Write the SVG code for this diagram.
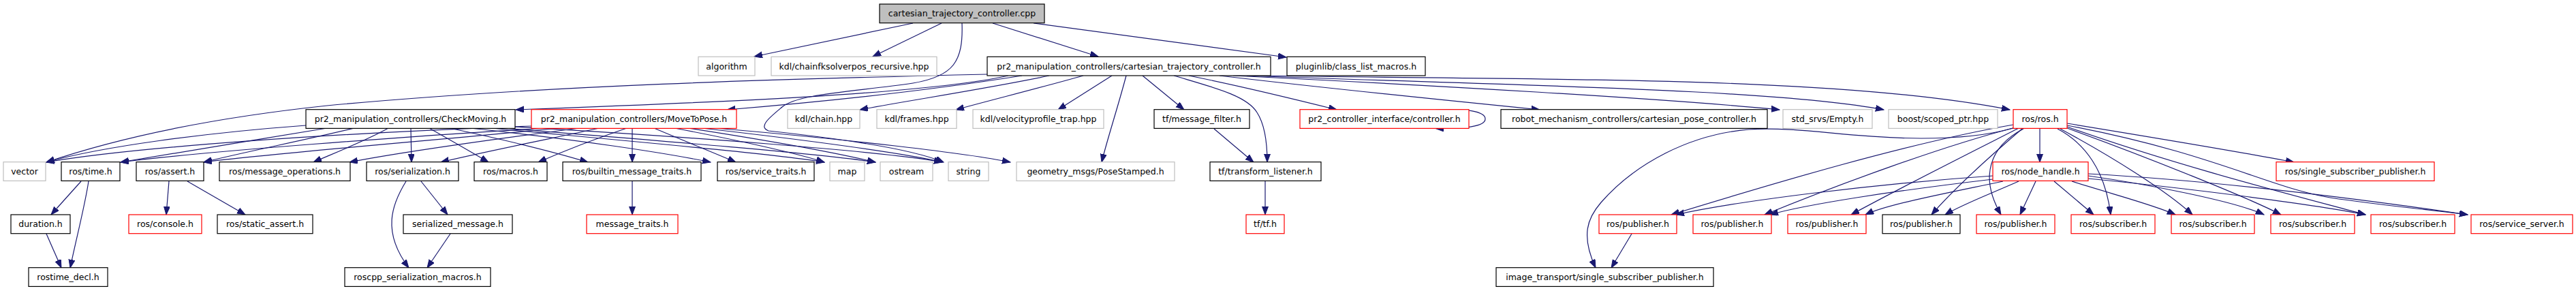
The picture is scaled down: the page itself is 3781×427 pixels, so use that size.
<svg xmlns="http://www.w3.org/2000/svg" width="3781" height="427" viewBox="0 0 3781 427">
<style>
rect{fill:#fff;stroke:#000;stroke-width:1.2}
.g rect{stroke:#bfbfbf}
.r rect{stroke:#ff0000}
.root rect{fill:#bfbfbf;stroke:#000}
text{font-family:"DejaVu Sans","Liberation Sans",sans-serif;font-size:12.5px;text-anchor:middle;fill:#000}
#edges path{fill:none;stroke:#191970;stroke-width:1.2;marker-end:url(#ah)}
</style>
<defs>
<marker id="ah" markerWidth="13" markerHeight="10" refX="12" refY="4.5" orient="auto" markerUnits="userSpaceOnUse"><path d="M0,0 L12,4.5 L0,9 z" fill="#191970" stroke="#191970" stroke-width="1"/></marker>
</defs>
<rect x="0" y="0" width="3781" height="427" style="fill:#fff;stroke:none"/>
<g id="edges">
<path d="M1340,34 L1107,83"/>
<path d="M1382,34 L1281,83"/>
<path d="M1457,34 L1612,83"/>
<path d="M1517,34 L1888,84"/>
<path d="M1412,34 C1414,90 1400,112 1340,122 C1250,135 1170,138 1148,157 C1130,172 1112,186 1128,192 C1200,200 1330,215 1385,238"/>
<path d="M1449,109 C1150,116 800,125 480,155 C320,172 180,200 68,238"/>
<path d="M1480,111 C1350,140 1000,152 757,161"/>
<path d="M1500,111 C1350,135 1200,150 1067,161"/>
<path d="M1540,111 C1450,130 1330,148 1262,161"/>
<path d="M1590,111 C1530,128 1450,148 1403,161"/>
<path d="M1632,111 L1553,161"/>
<path d="M1653,111 C1640,160 1625,205 1617,238"/>
<path d="M1677,111 L1738,161"/>
<path d="M1723,111 C1780,128 1830,140 1845,165 C1858,185 1860,215 1860,238"/>
<path d="M1745,111 C1830,128 1910,148 1962,161"/>
<path d="M1790,111 C1950,130 2150,150 2260,161"/>
<path d="M1810,111 C2100,125 2450,145 2612,161"/>
<path d="M1830,111 C2200,125 2600,130 2765,161"/>
<path d="M1850,111 C2300,118 2700,112 2950,161"/>
<path d="M449,184 C300,195 150,215 68,238"/>
<path d="M480,188 C380,205 250,225 177,238"/>
<path d="M520,188 C450,205 350,225 299,238"/>
<path d="M570,188 C540,205 490,225 460,238"/>
<path d="M603,188 L604,238"/>
<path d="M630,188 C660,205 695,225 717,238"/>
<path d="M660,188 C740,205 820,225 863,238"/>
<path d="M690,188 C850,205 980,225 1043,238"/>
<path d="M720,188 C900,205 1130,225 1210,238"/>
<path d="M740,188 C950,205 1200,225 1285,238"/>
<path d="M755,186 C1000,200 1300,222 1383,238"/>
<path d="M780,185 C500,195 200,215 68,238"/>
<path d="M800,188 C600,200 300,222 177,238"/>
<path d="M820,188 C650,205 400,225 299,238"/>
<path d="M850,188 C720,205 580,225 513,238"/>
<path d="M880,188 C800,205 700,225 647,238"/>
<path d="M920,188 C870,205 820,225 790,238"/>
<path d="M928,188 L928,238"/>
<path d="M960,188 C1000,205 1050,225 1080,238"/>
<path d="M990,188 C1080,205 1170,225 1210,238"/>
<path d="M1010,188 C1120,205 1230,225 1285,238"/>
<path d="M1030,188 C1180,205 1330,225 1383,238"/>
<path d="M1050,188 C1250,205 1420,225 1483,238"/>
<path d="M119,266 L75,315"/>
<path d="M130,266 C125,300 112,350 103,393"/>
<path d="M68,343 L90,393"/>
<path d="M248,266 L244,315"/>
<path d="M275,266 L360,315"/>
<path d="M618,266 L657,315"/>
<path d="M596,266 C575,300 560,340 600,393"/>
<path d="M661,343 L627,393"/>
<path d="M928,266 L928,315"/>
<path d="M1782,189 L1840,238"/>
<path d="M1857,266 L1857,315"/>
<path d="M2107,161 C2150,159 2180,163 2180,174.5 C2180,186 2150,188.5 2107,188.5"/>
<path d="M2955,188 C2920,198 2880,203 2820,203 C2720,203 2640,185 2567,190 C2480,197 2400,240 2350,297 C2330,320 2320,345 2342,393"/>
<path d="M2395,343 L2365,393"/>
<path d="M2994,189 L2994,238"/>
<path d="M3034,181 C3150,200 3300,225 3367,238"/>
<path d="M2955,183 C2800,210 2600,270 2453,315"/>
<path d="M2958,187 C2850,215 2700,270 2590,315"/>
<path d="M2963,188 C2900,220 2800,270 2717,315"/>
<path d="M2968,189 C2920,230 2870,275 2835,315"/>
<path d="M2970,189 C2920,215 2905,260 2937,315"/>
<path d="M3020,189 C3060,210 3090,250 3098,315"/>
<path d="M3024,189 C3100,230 3180,280 3218,315"/>
<path d="M3034,188 C3150,230 3300,290 3348,315"/>
<path d="M3034,186 C3200,245 3380,290 3472,315"/>
<path d="M3034,184 C3250,225 3330,275 3420,290 C3500,302 3570,308 3622,315"/>
<path d="M2925,258 C2750,270 2550,295 2460,315"/>
<path d="M2925,263 C2780,280 2650,300 2598,315"/>
<path d="M2940,266 C2850,285 2770,300 2738,315"/>
<path d="M2963,266 C2920,285 2880,300 2855,315"/>
<path d="M2988,266 L2965,315"/>
<path d="M3015,266 L3073,315"/>
<path d="M3041,266 C3100,285 3160,300 3193,315"/>
<path d="M3065,258 C3150,270 3280,295 3323,315"/>
<path d="M3065,262 C3200,275 3400,300 3472,315"/>
<path d="M3065,255 C3250,265 3450,290 3622,315"/>
</g>
<g id="root" class="root"><rect x="1291" y="6" width="242" height="27.7"/><text x="1412" y="24.3">cartesian_trajectory_controller.cpp</text></g>
<g id="algorithm" class="g"><rect x="1025" y="83.3" width="83" height="27.7"/><text x="1066.5" y="101.6">algorithm</text></g>
<g id="kdlfk" class="g"><rect x="1132" y="83.3" width="243" height="27.7"/><text x="1253.5" y="101.6">kdl/chainfksolverpos_recursive.hpp</text></g>
<g id="cth"><rect x="1449" y="83.3" width="416" height="27.7"/><text x="1657" y="101.6">pr2_manipulation_controllers/cartesian_trajectory_controller.h</text></g>
<g id="plugin"><rect x="1889" y="83.3" width="203" height="27.7"/><text x="1990.5" y="101.6">pluginlib/class_list_macros.h</text></g>
<g id="check"><rect x="449" y="160.7" width="307" height="27.7"/><text x="602.5" y="179">pr2_manipulation_controllers/CheckMoving.h</text></g>
<g id="move" class="r"><rect x="780" y="160.7" width="301" height="27.7"/><text x="930.5" y="179">pr2_manipulation_controllers/MoveToPose.h</text></g>
<g id="chain" class="g"><rect x="1156" y="160.7" width="106" height="27.7"/><text x="1209" y="179">kdl/chain.hpp</text></g>
<g id="frames" class="g"><rect x="1287" y="160.7" width="117" height="27.7"/><text x="1345.5" y="179">kdl/frames.hpp</text></g>
<g id="velo" class="g"><rect x="1428" y="160.7" width="192" height="27.7"/><text x="1524" y="179">kdl/velocityprofile_trap.hpp</text></g>
<g id="msgf"><rect x="1694" y="160.7" width="140" height="27.7"/><text x="1764" y="179">tf/message_filter.h</text></g>
<g id="ctrl" class="r"><rect x="1908" y="160.7" width="248" height="27.7"/><text x="2032" y="179">pr2_controller_interface/controller.h</text></g>
<g id="rmc"><rect x="2203" y="160.7" width="391" height="27.7"/><text x="2398.5" y="179">robot_mechanism_controllers/cartesian_pose_controller.h</text></g>
<g id="empty" class="g"><rect x="2617" y="160.7" width="131" height="27.7"/><text x="2682.5" y="179">std_srvs/Empty.h</text></g>
<g id="boost" class="g"><rect x="2772" y="160.7" width="160" height="27.7"/><text x="2852" y="179">boost/scoped_ptr.hpp</text></g>
<g id="ros" class="r"><rect x="2955" y="160.7" width="79" height="27.7"/><text x="2994.5" y="179">ros/ros.h</text></g>
<g id="vector" class="g"><rect x="5" y="237.7" width="62" height="27.7"/><text x="36" y="256">vector</text></g>
<g id="time"><rect x="90" y="237.7" width="86" height="27.7"/><text x="133" y="256">ros/time.h</text></g>
<g id="assert"><rect x="200" y="237.7" width="99" height="27.7"/><text x="249.5" y="256">ros/assert.h</text></g>
<g id="msgops"><rect x="322" y="237.7" width="192" height="27.7"/><text x="418" y="256">ros/message_operations.h</text></g>
<g id="ser"><rect x="538" y="237.7" width="135" height="27.7"/><text x="605.5" y="256">ros/serialization.h</text></g>
<g id="macros"><rect x="696" y="237.7" width="107" height="27.7"/><text x="749.5" y="256">ros/macros.h</text></g>
<g id="bmt"><rect x="826" y="237.7" width="203" height="27.7"/><text x="927.5" y="256">ros/builtin_message_traits.h</text></g>
<g id="svct"><rect x="1053" y="237.7" width="142" height="27.7"/><text x="1124" y="256">ros/service_traits.h</text></g>
<g id="map" class="g"><rect x="1218" y="237.7" width="51" height="27.7"/><text x="1243.5" y="256">map</text></g>
<g id="ostream" class="g"><rect x="1292" y="237.7" width="77" height="27.7"/><text x="1330.5" y="256">ostream</text></g>
<g id="string" class="g"><rect x="1392" y="237.7" width="59" height="27.7"/><text x="1421.5" y="256">string</text></g>
<g id="pose" class="g"><rect x="1492" y="237.7" width="232" height="27.7"/><text x="1608" y="256">geometry_msgs/PoseStamped.h</text></g>
<g id="tfl"><rect x="1776" y="237.7" width="163" height="27.7"/><text x="1857.5" y="256">tf/transform_listener.h</text></g>
<g id="nh" class="r"><rect x="2925" y="237.7" width="140" height="27.7"/><text x="2995" y="256">ros/node_handle.h</text></g>
<g id="ssp" class="r"><rect x="3341" y="237.7" width="232" height="27.7"/><text x="3457" y="256">ros/single_subscriber_publisher.h</text></g>
<g id="duration"><rect x="16" y="315" width="87" height="27.7"/><text x="59.5" y="333.3">duration.h</text></g>
<g id="console" class="r"><rect x="189" y="315" width="107" height="27.7"/><text x="242.5" y="333.3">ros/console.h</text></g>
<g id="sassert"><rect x="319" y="315" width="140" height="27.7"/><text x="389" y="333.3">ros/static_assert.h</text></g>
<g id="sermsg"><rect x="592" y="315" width="160" height="27.7"/><text x="672" y="333.3">serialized_message.h</text></g>
<g id="mtraits" class="r"><rect x="861" y="315" width="134" height="27.7"/><text x="928" y="333.3">message_traits.h</text></g>
<g id="tftf" class="r"><rect x="1829" y="315" width="56" height="27.7"/><text x="1857" y="333.3">tf/tf.h</text></g>
<g id="pub1" class="r"><rect x="2347" y="315" width="114" height="27.7"/><text x="2404" y="333.3">ros/publisher.h</text></g>
<g id="pub2" class="r"><rect x="2485" y="315" width="115" height="27.7"/><text x="2542.5" y="333.3">ros/publisher.h</text></g>
<g id="pub3" class="r"><rect x="2624" y="315" width="115" height="27.7"/><text x="2681.5" y="333.3">ros/publisher.h</text></g>
<g id="pub4"><rect x="2763" y="315" width="114" height="27.7"/><text x="2820" y="333.3">ros/publisher.h</text></g>
<g id="pub5" class="r"><rect x="2901" y="315" width="115" height="27.7"/><text x="2958.5" y="333.3">ros/publisher.h</text></g>
<g id="sub1" class="r"><rect x="3040" y="315" width="123" height="27.7"/><text x="3101.5" y="333.3">ros/subscriber.h</text></g>
<g id="sub2" class="r"><rect x="3187" y="315" width="122" height="27.7"/><text x="3248" y="333.3">ros/subscriber.h</text></g>
<g id="sub3" class="r"><rect x="3333" y="315" width="123" height="27.7"/><text x="3394.5" y="333.3">ros/subscriber.h</text></g>
<g id="sub4" class="r"><rect x="3480" y="315" width="123" height="27.7"/><text x="3541.5" y="333.3">ros/subscriber.h</text></g>
<g id="srv" class="r"><rect x="3627" y="315" width="149" height="27.7"/><text x="3701.5" y="333.3">ros/service_server.h</text></g>
<g id="rostime_decl"><rect x="42" y="392.7" width="116" height="27.7"/><text x="100" y="411">rostime_decl.h</text></g>
<g id="rscm"><rect x="506" y="392.7" width="214" height="27.7"/><text x="613" y="411">roscpp_serialization_macros.h</text></g>
<g id="itssp"><rect x="2196" y="392.7" width="319" height="27.7"/><text x="2355.5" y="411">image_transport/single_subscriber_publisher.h</text></g>
</svg>
